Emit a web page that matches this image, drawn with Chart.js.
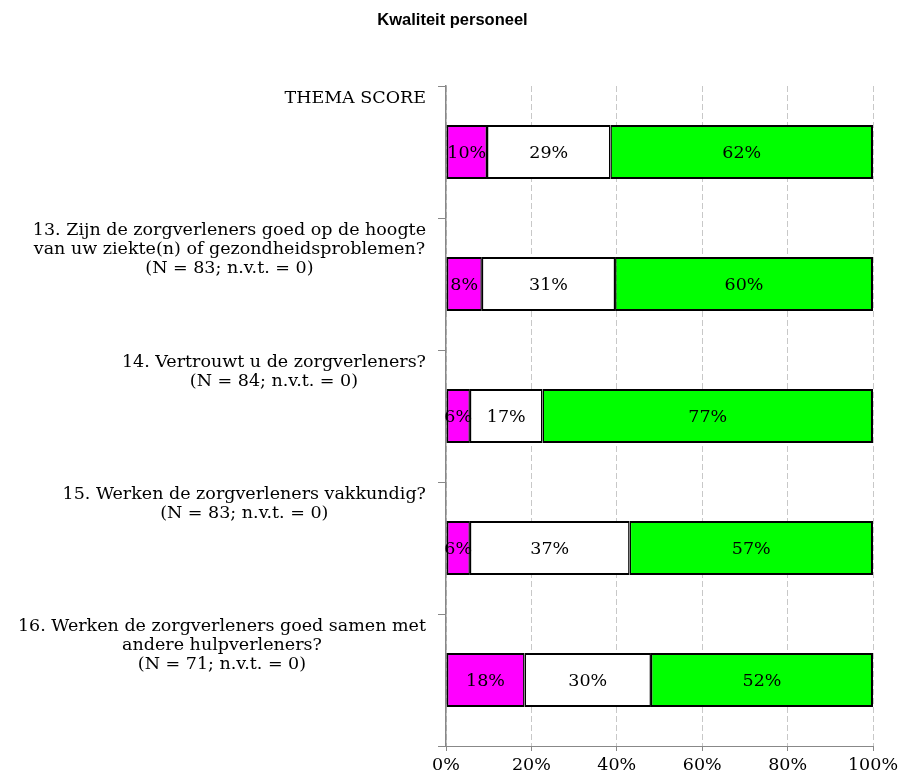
<!DOCTYPE html>
<html>
<head>
<meta charset="utf-8">
<script src="https://cdn.jsdelivr.net/npm/chart.js@4/dist/chart.umd.min.js"></script>
<style>
  body { margin: 0; background: #fff; }
  #wrap { width: 905px; height: 781px; }
</style>
</head>
<body>
<div id="wrap"><canvas id="grafico"></canvas></div>
<script>
// categorieen (meerdere regels per label)
const categorieen = [
  ['THEMA SCORE'],
  ['13. Zijn de zorgverleners goed op de hoogte', 'van uw ziekte(n) of gezondheidsproblemen?', '(N = 83; n.v.t. = 0)'],
  ['14. Vertrouwt u de zorgverleners?', '(N = 84; n.v.t. = 0)'],
  ['15. Werken de zorgverleners vakkundig?', '(N = 83; n.v.t. = 0)'],
  ['16. Werken de zorgverleners goed samen met', 'andere hulpverleners?', '(N = 71; n.v.t. = 0)']
];

// percentages per reeks
const negatief = [9.6, 8.4, 5.6, 5.6, 18.4];
const neutraal = [28.9, 31.2, 17.0, 37.4, 29.6];
const positief = [61.5, 60.4, 77.4, 57.0, 52.0];

const xTicks = [0, 20, 40, 60, 80, 100];

const serif = '"DejaVu Serif", "Liberation Serif", serif';

// labels links, boven elke balk, tekst gecentreerd en rechts uitgelijnd als blok
const labelsLinks = {
  id: 'labelsLinks',
  afterDraw(chart) {
    const ctx = chart.ctx;
    const area = chart.chartArea;
    const band = (area.bottom - area.top) / categorieen.length;
    ctx.save();
    ctx.font = '17.5px ' + serif;
    ctx.fillStyle = '#000';
    ctx.textAlign = 'center';
    ctx.textBaseline = 'middle';
    categorieen.forEach((regels, i) => {
      const breed = Math.max(...regels.map(r => ctx.measureText(r).width));
      const midden = 426 - breed / 2;
      const top = area.top + i * band;
      regels.forEach((r, j) => {
        ctx.fillText(r, midden, top + 12 + j * 19);
      });
    });
    // titel
    ctx.font = 'bold 16.5px "Liberation Sans", Arial, sans-serif';
    ctx.fillText('Kwaliteit personeel', chart.width / 2, 20);
    ctx.restore();
  }
};

// percentages in de balken
const waardeLabels = {
  id: 'waardeLabels',
  afterDatasetsDraw(chart) {
    const ctx = chart.ctx;
    ctx.save();
    ctx.font = '17.5px ' + serif;
    ctx.fillStyle = '#000';
    ctx.textAlign = 'center';
    ctx.textBaseline = 'middle';
    chart.data.datasets.forEach((ds, d) => {
      const meta = chart.getDatasetMeta(d);
      meta.data.forEach((bar, i) => {
        const v = ds.data[i];
        ctx.fillText(Math.round(v) + '%', (bar.x + bar.base) / 2, bar.y + 1);
      });
    });
    ctx.restore();
  }
};

new Chart(document.getElementById('grafico'), {
  type: 'bar',
  data: {
    labels: categorieen,
    datasets: [
      { label: 'negatief', data: negatief, backgroundColor: '#ff00ff',
        borderWidth: { top: 2, bottom: 2, left: 2, right: 1.5 } },
      { label: 'neutraal', data: neutraal, backgroundColor: '#ffffff',
        borderWidth: { top: 2, bottom: 2, left: 1.5, right: 1.5 } },
      { label: 'positief', data: positief, backgroundColor: '#00ff00',
        borderWidth: { top: 2, bottom: 2, left: 1.5, right: 2 } }
    ]
  },
  options: {
    indexAxis: 'y',
    responsive: true,
    maintainAspectRatio: false,
    animation: false,
    layout: { padding: { top: 86, right: 32, left: 0, bottom: 0 } },
    datasets: {
      bar: {
        borderColor: '#000',
        borderSkipped: false,
        categoryPercentage: 1,
        barPercentage: 0.41
      }
    },
    plugins: {
      legend: { display: false },
      title: { display: false },
      tooltip: { enabled: false }
    },
    scales: {
      x: {
        stacked: true,
        min: 0,
        max: 100,
        afterBuildTicks(scale) {
          scale.ticks = xTicks.map(v => ({ value: v }));
        },
        afterFit(scale) { scale.height = 35; },
        ticks: {
          callback: v => v + '%',
          color: '#000',
          font: { family: serif, size: 17.5 },
          padding: 4,
          maxRotation: 0
        },
        grid: {
          color: '#c8c8c8',
          tickColor: '#888',
          tickLength: 5,
          tickBorderDash: []
        },
        border: { color: '#888', width: 1, dash: [6, 3] }
      },
      y: {
        stacked: true,
        afterFit(scale) { scale.width = 446; },
        ticks: { display: false },
        grid: {
          drawOnChartArea: false,
          color: '#888',
          tickLength: 8
        },
        border: { color: '#888', width: 1.5 }
      }
    }
  },
  plugins: [labelsLinks, waardeLabels]
});
</script>
</body>
</html>
